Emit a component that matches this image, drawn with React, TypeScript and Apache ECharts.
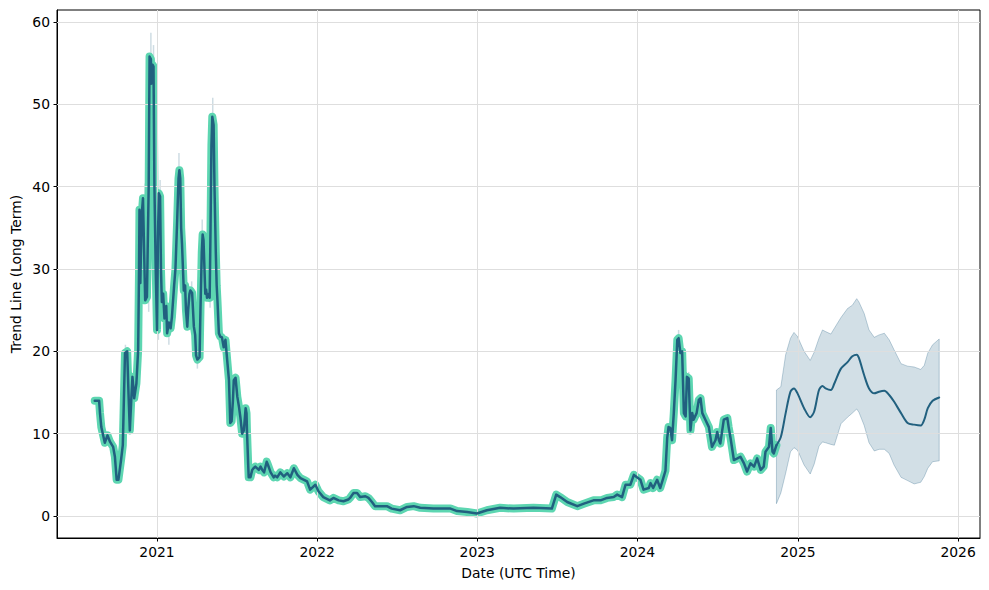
import React, { useEffect, useRef } from "react";
import * as echarts from "echarts";

// ---------- data ----------
const HIST_DATES = [
  "2020-08-12","2020-08-22","2020-08-24","2020-08-27","2020-09-04","2020-09-10","2020-09-16","2020-09-23","2020-09-27","2020-10-01",
  "2020-10-05","2020-10-11","2020-10-15","2020-10-20","2020-10-25","2020-10-28","2020-10-31","2020-11-04","2020-11-06","2020-11-10",
  "2020-11-15","2020-11-19","2020-11-21","2020-11-22","2020-11-24","2020-11-27","2020-11-30","2020-12-05","2020-12-09","2020-12-13",
  "2020-12-15","2020-12-18","2020-12-19","2020-12-22","2020-12-24","2020-12-26","2020-12-29","2021-01-01","2021-01-03","2021-01-05",
  "2021-01-08","2021-01-10","2021-01-12","2021-01-15","2021-01-18","2021-01-22","2021-01-24","2021-01-28","2021-02-01","2021-02-04",
  "2021-02-09","2021-02-12","2021-02-16","2021-02-19","2021-02-21","2021-02-23","2021-02-25","2021-02-27","2021-03-03","2021-03-06",
  "2021-03-08","2021-03-11","2021-03-13","2021-03-16","2021-03-18","2021-03-22","2021-03-26","2021-03-29","2021-03-31","2021-04-03",
  "2021-04-08","2021-04-10","2021-04-13","2021-04-15","2021-04-17","2021-04-21","2021-04-23","2021-04-25","2021-04-29","2021-05-01",
  "2021-05-03","2021-05-05","2021-05-07","2021-05-10","2021-05-12","2021-05-15","2021-05-17","2021-05-19","2021-05-22","2021-05-25",
  "2021-05-29","2021-06-02","2021-06-06","2021-06-10","2021-06-14","2021-06-17","2021-06-20","2021-06-23","2021-06-25","2021-06-29",
  "2021-07-03","2021-07-07","2021-07-10","2021-07-14","2021-07-18","2021-07-22","2021-07-24","2021-07-25","2021-07-28","2021-07-29",
  "2021-08-02","2021-08-06","2021-08-09","2021-08-13","2021-08-21","2021-08-25","2021-08-29","2021-09-02","2021-09-08","2021-09-11",
  "2021-09-17","2021-09-24","2021-09-27","2021-10-02","2021-10-09","2021-10-17","2021-10-25","2021-11-01","2021-11-09","2021-11-17",
  "2021-11-24","2021-12-02","2021-12-09","2021-12-16","2021-12-28","2022-01-04","2022-01-15","2022-01-30","2022-02-07","2022-02-19",
  "2022-03-02","2022-03-13","2022-03-17","2022-03-25","2022-04-02","2022-04-09","2022-04-21","2022-04-28","2022-05-06","2022-05-13",
  "2022-06-09","2022-06-20","2022-07-09","2022-07-25","2022-08-09","2022-08-24","2022-09-23","2022-11-01","2022-11-16","2022-12-09",
  "2022-12-31","2023-01-23","2023-02-22","2023-03-25","2023-05-09","2023-06-20","2023-06-30","2023-07-09","2023-07-25","2023-08-17",
  "2023-09-01","2023-09-23","2023-10-09","2023-10-24","2023-11-08","2023-11-16","2023-11-27","2023-12-05","2023-12-16","2023-12-24",
  "2023-12-31","2024-01-08","2024-01-15","2024-01-27","2024-01-31","2024-02-06","2024-02-15","2024-02-22","2024-02-29","2024-03-05",
  "2024-03-09","2024-03-12","2024-03-16","2024-03-20","2024-03-24","2024-03-28","2024-04-01","2024-04-04","2024-04-08","2024-04-12",
  "2024-04-16","2024-04-20","2024-04-23","2024-04-27","2024-05-01","2024-05-05","2024-05-08","2024-05-15","2024-05-20","2024-05-24",
  "2024-05-28","2024-06-04","2024-06-12","2024-06-19","2024-06-27","2024-07-01","2024-07-05","2024-07-08","2024-07-16","2024-07-24",
  "2024-07-27","2024-07-31","2024-08-08","2024-08-16","2024-08-23","2024-08-31","2024-09-07","2024-09-15","2024-09-23","2024-09-30",
  "2024-10-08","2024-10-15","2024-10-19","2024-10-27","2024-10-31","2024-11-04","2024-11-07","2024-11-13"
];
const HIST_VALUES = [
  14.0,14.0,12.5,10.8,8.9,9.8,9.0,8.4,7.2,4.4,
  4.4,6.8,8.6,19.8,20.0,14.9,10.4,14.9,16.9,14.3,
  16.1,20.2,30.0,37.2,28.3,36.5,38.6,26.2,26.6,40.0,
  55.8,55.5,52.5,54.8,54.6,40.4,30.0,22.6,33.2,39.2,
  38.8,30.0,26.0,27.0,24.0,25.5,22.2,23.5,22.8,24.2,
  28.0,30.0,36.0,41.0,42.0,41.0,35.0,33.0,27.4,28.0,
  25.0,23.0,25.0,27.0,27.4,27.1,23.0,22.0,19.5,19.0,
  19.3,25.0,32.0,34.2,33.5,27.0,27.5,26.5,27.0,26.5,
  35.0,45.0,48.5,47.5,40.0,32.0,28.0,25.9,22.2,21.8,
  21.7,20.5,21.4,18.9,16.5,11.3,11.5,14.0,16.5,16.8,
  14.5,13.2,12.0,10.0,10.4,13.1,12.5,10.4,6.0,4.7,
  4.7,5.6,5.8,6.0,5.6,6.0,5.6,5.3,6.6,6.2,
  5.3,4.7,4.9,4.7,5.3,4.8,5.2,4.7,5.8,5.0,
  4.6,4.4,4.2,3.2,3.8,3.0,2.3,1.9,2.2,1.9,
  1.8,2.0,2.2,2.8,2.8,2.3,2.4,2.2,1.7,1.2,
  1.2,0.9,0.7,1.1,1.2,1.0,0.9,0.9,0.6,0.5,
  0.3,0.7,1.0,0.9,1.0,0.9,2.6,2.3,1.7,1.2,
  1.5,1.9,1.9,2.2,2.3,2.6,2.3,3.8,3.8,5.0,
  4.7,4.4,3.2,3.4,4.0,3.4,4.4,3.4,4.6,5.5,
  9.5,10.8,10.7,9.2,12.5,16.5,21.4,21.6,19.8,20.0,
  12.5,12.1,16.9,16.7,10.4,12.5,11.7,12.5,14.1,14.3,
  12.5,11.7,10.8,8.4,9.2,10.2,9.2,8.8,11.7,11.9,
  10.8,9.6,6.8,7.0,7.2,6.4,5.4,6.4,6.0,7.0,
  5.6,6.0,7.8,8.4,10.7,7.8,7.6,8.6
];

const FC_DATES = [
  "2024-11-13","2024-11-23","2024-12-04","2024-12-15","2024-12-23","2024-12-31","2025-01-15","2025-01-29","2025-02-07","2025-02-18",
  "2025-02-26","2025-03-05","2025-03-17","2025-03-25","2025-04-09","2025-04-24","2025-05-05","2025-05-15","2025-05-20","2025-06-01",
  "2025-06-12","2025-06-24","2025-07-05","2025-07-17","2025-07-28","2025-08-08","2025-08-24","2025-09-08","2025-09-23","2025-10-08",
  "2025-10-16","2025-10-24","2025-11-04","2025-11-19"
];
const FC_MID = [
  8.6,9.6,12.5,15.1,15.5,14.9,13.1,12.0,12.7,15.3,
  15.8,15.5,15.3,16.1,17.9,18.7,19.4,19.6,19.2,17.1,
  15.5,14.9,15.1,15.2,14.7,13.9,12.5,11.3,11.1,11.0,
  11.7,13.1,14.0,14.4
];
const FC_UPPER = [
  15.3,15.7,19.6,21.6,22.3,21.8,20.0,18.9,19.9,21.6,
  22.6,22.4,22.1,22.8,24.1,25.2,25.6,26.4,26.0,24.6,
  22.6,21.7,22.0,22.2,21.4,20.2,18.5,18.2,18.1,17.8,
  18.3,19.8,20.8,21.5
];
const FC_LOWER = [
  1.5,2.8,5.2,7.8,8.3,8.0,6.2,5.1,6.3,8.5,
  9.0,8.9,8.7,8.6,11.2,12.0,12.5,13.0,12.6,11.0,
  8.9,7.9,8.1,8.1,7.6,6.2,4.7,4.3,3.9,4.1,
  4.8,5.8,6.6,6.7
];

const WICK_DATES = [
  "2020-10-21","2020-12-05","2020-12-13","2020-12-18","2020-12-24","2021-01-04","2021-01-08","2021-01-28",
  "2021-02-20","2021-03-21","2021-04-03","2021-04-14","2021-05-02","2021-05-08","2024-04-04","2024-04-27","2024-05-24"
];
const WICK_LOW = [19.5,36.0,24.8,55.0,54.0,21.4,38.0,20.8,41.0,26.0,17.9,33.0,25.3,48.0,21.0,16.5,14.0];
const WICK_HIGH = [20.8,40.4,27.0,58.7,57.2,23.0,40.8,23.0,44.1,28.5,19.5,36.0,27.0,50.8,22.6,17.5,14.8];

const X_TICKS = ["2021-01-01","2022-01-01","2023-01-01","2024-01-01","2025-01-01","2026-01-01"];
const Y_TICKS = [0, 10, 20, 30, 40, 50, 60];
const X_MIN = "2020-05-18";
const X_MAX = "2026-02-20";
const Y_MIN = -2.67;
const Y_MAX = 61.46;

// ---------- helpers ----------
const ts = (s: string) => {
  const [y, m, d] = s.split("-").map(Number);
  return Date.UTC(y, m - 1, d);
};
const FONT = "DejaVu Sans";
const DARK = "#21607f";
const GREEN = "#5dd6b1";
const BAND_FILL = "rgba(31,95,128,0.2)";
const BAND_EDGE = "rgba(31,95,128,0.28)";

export default function App() {
  const ref = useRef<HTMLDivElement>(null);

  useEffect(() => {
    if (!ref.current) return;
    const chart = echarts.init(ref.current, null, { renderer: "svg" });

    const hist = HIST_DATES.map((d, i) => [ts(d), HIST_VALUES[i]]);
    const fc = FC_DATES.map((d, i) => [ts(d), FC_MID[i]]);
    const band = FC_DATES.map((d, i) => [ts(d), FC_LOWER[i], FC_UPPER[i]]);
    const wicks = WICK_DATES.map((d, i) => [ts(d), WICK_LOW[i], WICK_HIGH[i]]);
    const xTickVals = X_TICKS.map(ts);

    const option: any = {
      animation: false,
      grid: {
        left: 57,
        right: 9,
        top: 10,
        bottom: 52,
        show: true,
        borderColor: "#000",
        borderWidth: 1,
        backgroundColor: "transparent",
      },
      xAxis: {
        type: "value",
        min: ts(X_MIN),
        max: ts(X_MAX),
        axisLine: { show: true, onZero: false, lineStyle: { color: "#000", width: 1 } },
        axisTick: {
          show: true,
          inside: false,
          length: 3.5,
          lineStyle: { color: "#000" },
          customValues: xTickVals,
        },
        axisLabel: {
          customValues: xTickVals,
          formatter: (v: number) => String(new Date(v).getUTCFullYear()),
          color: "#000",
          fontFamily: FONT,
          fontSize: 13.9,
          margin: 7,
        },
        splitLine: { show: false },
      },
      yAxis: {
        type: "value",
        min: Y_MIN,
        max: Y_MAX,
        axisLine: { show: true, onZero: false, lineStyle: { color: "#000", width: 1 } },
        axisTick: {
          show: true,
          inside: false,
          length: 3.5,
          lineStyle: { color: "#000" },
          customValues: Y_TICKS,
        },
        axisLabel: {
          customValues: Y_TICKS,
          color: "#000",
          fontFamily: FONT,
          fontSize: 13.9,
          margin: 7,
        },
        splitLine: { show: false },
      },
      graphic: [
        {
          type: "text",
          x: 16,
          y: 274,
          rotation: Math.PI / 2,
          style: {
            text: "Trend Line (Long Term)",
            fontFamily: FONT,
            fontSize: 13.9,
            fill: "#000",
            align: "center",
            verticalAlign: "middle",
          },
        },
        {
          type: "text",
          x: 518.5,
          y: 573,
          style: {
            text: "Date (UTC Time)",
            fontFamily: FONT,
            fontSize: 13.9,
            fill: "#000",
            align: "center",
            verticalAlign: "middle",
          },
        },
      ],
      series: [
        {
          name: "grid",
          type: "line",
          data: [hist[0]],
          showSymbol: false,
          symbol: "none",
          lineStyle: { opacity: 0 },
          silent: true,
          z: 1,
          markLine: {
            silent: true,
            symbol: ["none", "none"],
            label: { show: false },
            lineStyle: { color: "#dedede", type: "solid", width: 1 },
            data: [
              ...xTickVals.map((v) => ({ xAxis: v })),
              ...Y_TICKS.map((v) => ({ yAxis: v })),
            ],
          },
        },
        {
          name: "band",
          type: "custom",
          data: band,
          encode: { x: 0, y: [1, 2] },
          z: 2,
          silent: true,
          renderItem: (params: any, api: any) => {
            if (params.dataIndex !== 0) return null;
            const pts: number[][] = [];
            for (let i = 0; i < band.length; i++) pts.push(api.coord([band[i][0], band[i][2]]));
            for (let i = band.length - 1; i >= 0; i--) pts.push(api.coord([band[i][0], band[i][1]]));
            return {
              type: "polygon",
              shape: { points: pts },
              style: { fill: BAND_FILL, stroke: BAND_EDGE, lineWidth: 1 },
            };
          },
        },
        {
          name: "wicks",
          type: "custom",
          data: wicks,
          encode: { x: 0, y: [1, 2] },
          z: 3,
          silent: true,
          renderItem: (params: any, api: any) => {
            const x = api.value(0);
            const lo = api.coord([x, api.value(1)]);
            const hi = api.coord([x, api.value(2)]);
            return {
              type: "line",
              shape: { x1: lo[0], y1: lo[1], x2: hi[0], y2: hi[1] },
              style: { stroke: "rgba(31,95,128,0.22)", lineWidth: 1.5 },
            };
          },
        },
        {
          name: "trendGlow",
          type: "line",
          data: hist,
          showSymbol: false,
          symbol: "none",
          z: 4,
          lineStyle: { color: GREEN, width: 8, cap: "round", join: "round" },
        },
        {
          name: "trend",
          type: "line",
          data: hist,
          showSymbol: false,
          symbol: "none",
          z: 5,
          lineStyle: { color: DARK, width: 2.5, cap: "round", join: "round" },
        },
        {
          name: "forecast",
          type: "line",
          data: fc,
          showSymbol: false,
          symbol: "none",
          smooth: 0.3,
          z: 5,
          lineStyle: { color: DARK, width: 2, cap: "round", join: "round" },
        },
      ],
    };

    chart.setOption(option);
    return () => chart.dispose();
  }, []);

  return (
    <div
      ref={ref}
      style={{ position: "fixed", left: 0, top: 0, width: 989, height: 590, background: "#fff" }}
    />
  );
}
